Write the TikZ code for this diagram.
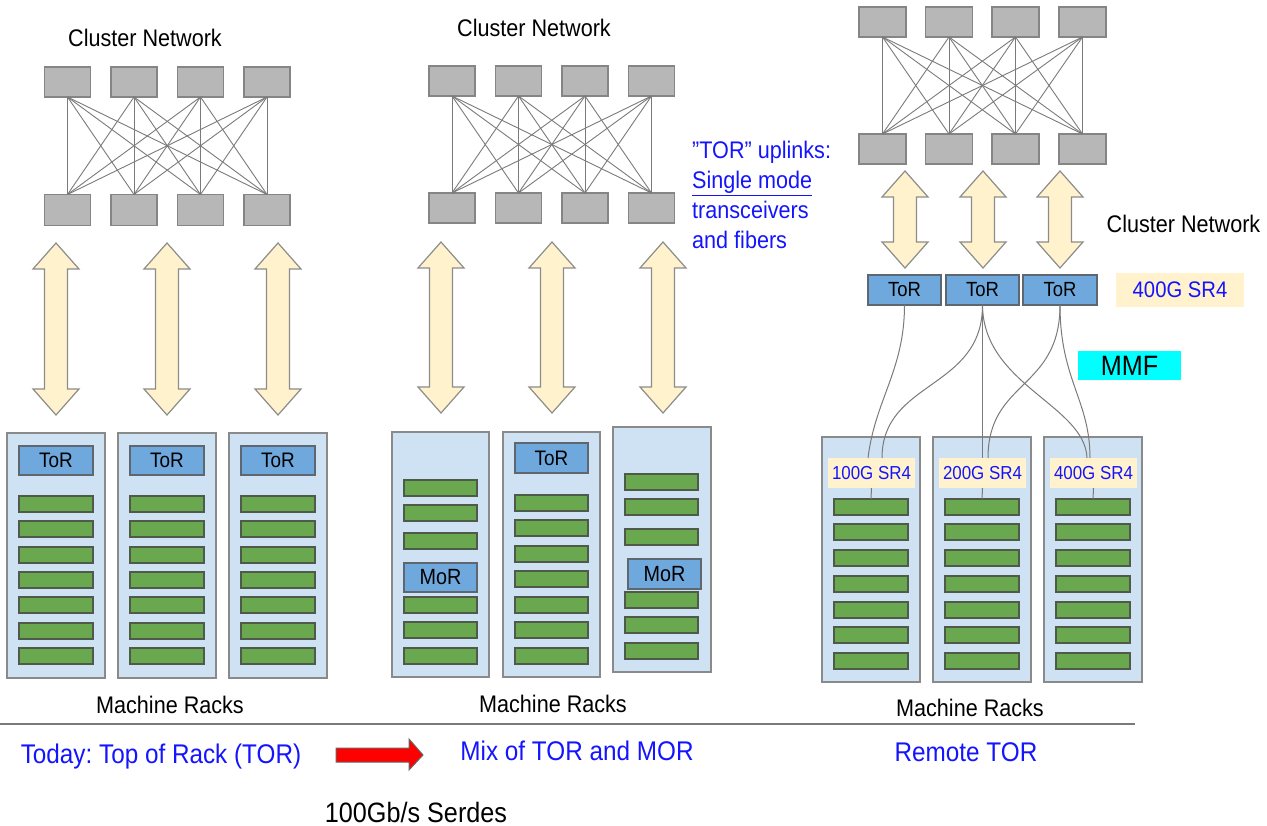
\documentclass[tikz,border=0pt]{standalone}
\usepackage{fontspec}
\setmainfont{Liberation Sans}[FakeStretch=0.9]
\frenchspacing
\usetikzlibrary{calc}
\definecolor{swfill}{HTML}{B7B7B7}
\definecolor{swdraw}{HTML}{858585}
\definecolor{meshc}{HTML}{7A7A7A}
\definecolor{rackfill}{HTML}{CFE2F3}
\definecolor{rackdraw}{HTML}{8A8A8A}
\definecolor{torfill}{HTML}{6FA8DC}
\definecolor{tordraw}{HTML}{5E6670}
\definecolor{srvfill}{HTML}{6AA84F}
\definecolor{srvdraw}{HTML}{4F5A4A}
\definecolor{arrfill}{HTML}{FFF2CC}
\definecolor{arrdraw}{HTML}{8C8C8C}
\definecolor{txtblue}{HTML}{1414FF}
\definecolor{mmfc}{HTML}{00FFFF}
\newcommand\fsz[1]{\fontsize{#1}{#1}\selectfont}
\newcommand\fatarr[3]{%
  \draw[fatarrow] (#1,#2) -- (#1+23,#2+26) -- (#1+11.5,#2+26) -- (#1+11.5,#3-26) -- (#1+23,#3-26) -- (#1,#3) -- (#1-23,#3-26) -- (#1-11.5,#3-26) -- (#1-11.5,#2+26) -- (#1-23,#2+26) -- cycle;}
\tikzset{
  sw/.style={draw=swdraw, fill=swfill, line width=1.2pt, inner sep=0, outer sep=0, minimum width=46, minimum height=30},
  mesh/.style={draw=meshc, line width=0.9pt},
  rack/.style={draw=rackdraw, fill=rackfill, line width=1.2pt, inner sep=0, outer sep=0, minimum width=98, minimum height=245},
  torbox/.style={draw=tordraw, fill=torfill, line width=1.2pt, inner sep=0, outer sep=0, minimum width=74, minimum height=29, font=\fsz{21}},
  srv/.style={draw=srvdraw, fill=srvfill, line width=1.1pt, inner sep=0, outer sep=0, minimum width=74, minimum height=16},
  fatarrow/.style={draw=arrdraw, fill=arrfill, line width=1.2pt, line join=miter},
  lbl/.style={inner sep=0, outer sep=0, font=\fsz{24}},
  bluelbl/.style={inner sep=0, outer sep=0, text=txtblue, font=\fsz{27}},
  srlbl/.style={fill=arrfill, inner sep=0, outer sep=0, minimum width=87, minimum height=30, text=txtblue, font=\fsz{18.8}},
  fiber/.style={draw=meshc, line width=1pt},
}
\begin{document}
\begin{tikzpicture}[x=1pt,y=-1pt]
\useasboundingbox (0,0) rectangle (1267,826);

% ===== Panel 1 =====
\node[lbl] (cn1) at (145,38) {Cluster Network};
\foreach \i/\x in {1/67.5,2/134,3/200.5,4/267}{
  \node[sw] (pAt\i) at (\x,82) {};
  \node[sw, minimum height=31] (pAb\i) at (\x,210) {};
}
\foreach \i in {1,...,4}{\foreach \j in {1,...,4}{\draw[mesh] (pAt\i.south) -- (pAb\j.north);}}
\fatarr{56}{243}{415}
\fatarr{167}{243}{415}
\fatarr{278}{243}{415}
\foreach \r/\x in {1/56,2/167,3/278}{
  \node[rack] (pAr\r) at (\x,555.5) {};
  \node[torbox] (pAtor\r) at (\x,460.5) {ToR};
  \foreach \k/\y in {1/496,2/521,3/547,4/572,5/597,6/623,7/648}{
    \node[srv] (pAs\r\k) at (\x,\y+8) {};
  }
}
\node[lbl] (mr1) at (170,705) {Machine Racks};

% ===== Panel 2 =====
\node[lbl] (cn2) at (534,28) {Cluster Network};
\foreach \i/\x in {1/452,2/518.5,3/585,4/651.5}{
  \node[sw] (pBt\i) at (\x,81) {};
  \node[sw] (pBb\i) at (\x,208) {};
}
\foreach \i in {1,...,4}{\foreach \j in {1,...,4}{\draw[mesh] (pBt\i.south) -- (pBb\j.north);}}
\fatarr{441}{242}{413}
\fatarr{552}{242}{413}
\fatarr{663}{242}{413}
\node[inner sep=0, anchor=north west, text=txtblue, align=left, font=\fontsize{24}{30}\selectfont] (uplink) at (692,141)
  {”TOR” uplinks:\\\underline{Single mode}\\transceivers\\and fibers};
% rack 1
\node[rack, minimum width=97] (pBr1) at (440.5,554.5) {};
\foreach \k/\y in {1/480,2/505,3/533,4/597,5/622,6/648}{\node[srv, minimum width=73] (pB1s\k) at (440.5,\y+8) {};}
\node[torbox, minimum width=73, font=\fsz{22}] (pBmor1) at (440.5,577.5) {MoR};
% rack 2
\node[rack, minimum width=97] (pBr2) at (551.5,554.5) {};
\node[torbox, minimum width=73, minimum height=30] (pBtor2) at (551.5,458) {ToR};
\foreach \k/\y in {1/495,2/520,3/546,4/571,5/597,6/622,7/648}{\node[srv, minimum width=73] (pB2s\k) at (551.5,\y+8) {};}
% rack 3
\node[rack] (pBr3) at (662,549.5) {};
\foreach \k/\y in {1/474,2/499,3/529,4/592,5/617,6/643}{\node[srv, minimum width=73] (pB3s\k) at (661.5,\y+8) {};}
\node[torbox, minimum width=73, minimum height=30, font=\fsz{22}] (pBmor3) at (664.5,574) {MoR};
\node[lbl] (mr2) at (553,704) {Machine Racks};

% ===== Panel 3 =====
\foreach \i/\x in {1/882.5,2/949,3/1015.5,4/1082.5}{
  \node[sw, minimum width=47] (pCt\i) at (\x,22) {};
  \node[sw, minimum width=47] (pCb\i) at (\x,149) {};
}
\foreach \i in {1,...,4}{\foreach \j in {1,...,4}{\draw[mesh] (pCt\i.south) -- (pCb\j.north);}}
\fatarr{905}{171}{268}
\fatarr{983}{171}{268}
\fatarr{1060}{171}{268}
\node[torbox, minimum width=73, minimum height=30, font=\fsz{20.5}] (pCtor1) at (904.5,290) {ToR};
\node[torbox, minimum width=73, minimum height=30, font=\fsz{20.5}] (pCtor2) at (982.5,290) {ToR};
\node[torbox, minimum width=74, minimum height=30, font=\fsz{20.5}] (pCtor3) at (1060,290) {ToR};
\node[lbl] (cn3) at (1183.5,224) {Cluster Network};
\node[srlbl, minimum width=128, minimum height=34, font=\fsz{22.5}] (sr400) at (1180,290) {400G SR4};
\node[fill=mmfc, inner sep=0, minimum width=103, minimum height=29, font=\fsz{28}] (mmf) at (1129.5,365.5) {MMF};
\foreach \r/\x/\t in {1/871/100G SR4,2/982/200G SR4,3/1093/400G SR4}{
  \node[rack] (pCr\r) at (\x,559.5) {};
  \node[srlbl] (pCl\r) at (\x+0.5,473) {\t};
  \foreach \k/\y in {1/499,2/524,3/550,4/576,5/602,6/627,7/653}{
    \node[srv] (pCs\r\k) at (\x,\y+8) {};
  }
  \draw[fiber] (pCl\r.south) -- (pCs\r1.north);
}
% fibers
\draw[fiber] (pCtor1.south) .. controls (904.5,370) and (875,400) .. ($(pCl1.north)+(-3.5,0)$);
\draw[fiber] (pCtor2.south) .. controls (982.5,390) and (882,380) .. ($(pCl1.north)+(10.5,0)$);
\draw[fiber] (pCtor2.south) -- (pCl2.north);
\draw[fiber] (pCtor2.south) .. controls (983,385) and (1085,405) .. ($(pCl3.north)+(-6.5,0)$);
\draw[fiber] (pCtor3.south) .. controls (1060,390) and (988,380) .. ($(pCl2.north)+(5.5,0)$);
\draw[fiber] (pCtor3.south) .. controls (1060,380) and (1090,400) .. ($(pCl3.north)+(-3.5,0)$);
\node[lbl] (mr3) at (970,708) {Machine Racks};

% ===== Bottom =====
\coordinate (hl1) at (0,724);
\coordinate (hl2) at (1135,724);
\draw[draw=meshc, line width=1.8pt] (hl1) -- (hl2);
\node[bluelbl] (today) at (161,757) {Today: Top of Rack (TOR)};
\node[bluelbl] (mix) at (577,751) {Mix of TOR and MOR};
\node[bluelbl] (remote) at (966,752) {Remote TOR};
\draw[draw=gray!80!black, fill=red, line width=1pt] (336,748) -- (409,748) -- (409,739) -- (423,755) -- (409,770) -- (409,762) -- (336,762) -- cycle;
\node[inner sep=0, font=\fsz{28}] (serdes) at (416,812) {100Gb/s Serdes};
\end{tikzpicture}
\end{document}
